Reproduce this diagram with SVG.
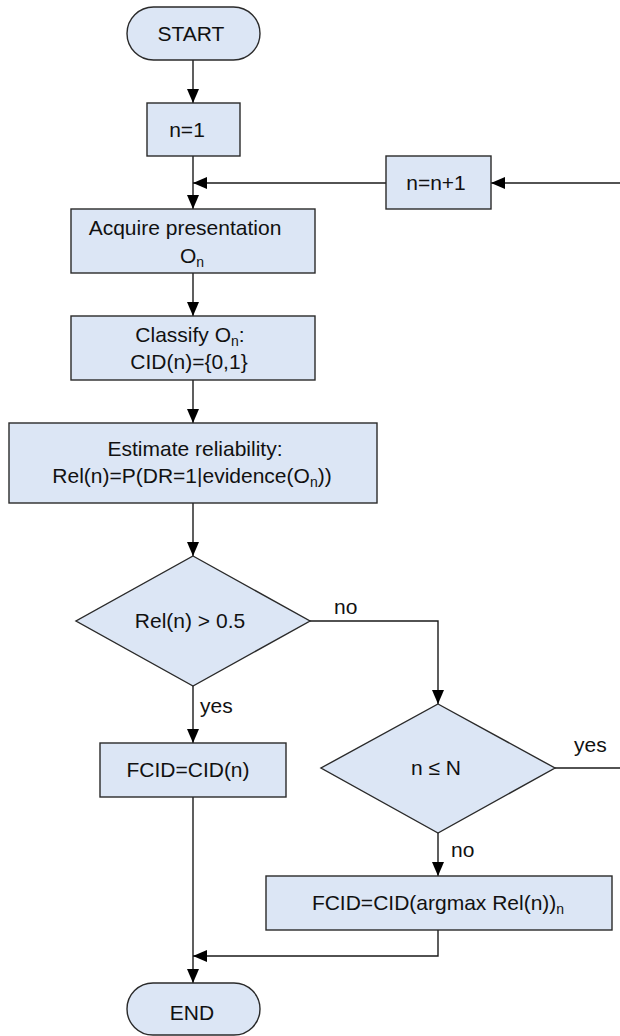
<svg xmlns="http://www.w3.org/2000/svg" width="620" height="1036" viewBox="0 0 620 1036">
<style>
.box{fill:#dce6f5;stroke:#2a2a2a;stroke-width:1.4}
.t{font-family:"Liberation Sans",Arial,Helvetica,sans-serif;font-size:21px;fill:#111;text-anchor:middle}
.l{font-family:"Liberation Sans",Arial,Helvetica,sans-serif;font-size:21px;fill:#111}
.sub{font-size:14px}
.c{fill:none;stroke:#1a1a1a;stroke-width:1.4}
</style>
<defs>
<marker id="ah" markerUnits="userSpaceOnUse" markerWidth="14" markerHeight="12" refX="14" refY="6" orient="auto">
<path d="M0,0 L14,6 L0,12 z" fill="#000"/>
</marker>
</defs>
<rect width="620" height="1036" fill="#fff"/>
<g id="connectors">
<line class="c" x1="193" y1="60" x2="193" y2="103" marker-end="url(#ah)"/>
<line class="c" x1="193" y1="156" x2="193" y2="209" marker-end="url(#ah)"/>
<line class="c" x1="620" y1="183" x2="491" y2="183" marker-end="url(#ah)"/>
<line class="c" x1="386" y1="183" x2="193" y2="183" marker-end="url(#ah)"/>
<line class="c" x1="193" y1="273" x2="193" y2="316" marker-end="url(#ah)"/>
<line class="c" x1="193" y1="380" x2="193" y2="423" marker-end="url(#ah)"/>
<line class="c" x1="193" y1="503" x2="193" y2="556" marker-end="url(#ah)"/>
<line class="c" x1="193" y1="686" x2="193" y2="743" marker-end="url(#ah)"/>
<polyline class="c" points="310,621 438,621 438,704" marker-end="url(#ah)"/>
<line class="c" x1="438" y1="833" x2="438" y2="876" marker-end="url(#ah)"/>
<line class="c" x1="555" y1="768" x2="620" y2="768"/>
<line class="c" x1="193" y1="797" x2="193" y2="983" marker-end="url(#ah)"/>
<polyline class="c" points="438,930 438,956 193,956" marker-end="url(#ah)"/>
<text class="l" x="334" y="614">no</text>
<text class="l" x="200" y="713">yes</text>
<text class="l" x="574" y="752">yes</text>
<text class="l" x="451" y="857">no</text>
</g>
<g id="start">
<rect class="box" x="127" y="7" width="133" height="53" rx="26.5" ry="26.5"/>
<text class="t" x="191" y="41">START</text>
</g>
<g id="n1">
<rect class="box" x="147" y="103" width="93" height="53"/>
<text class="t" x="187" y="137">n=1</text>
</g>
<g id="ninc">
<rect class="box" x="386" y="156" width="105" height="53"/>
<text class="t" x="436" y="190">n=n+1</text>
</g>
<g id="acquire">
<rect class="box" x="71" y="209" width="244" height="64"/>
<text class="t" x="185" y="235">Acquire presentation</text>
<text class="t" x="192" y="263">O<tspan class="sub" dy="4">n</tspan></text>
</g>
<g id="classify">
<rect class="box" x="71" y="316" width="244" height="64"/>
<text class="t" x="190" y="342">Classify O<tspan class="sub" dy="4">n</tspan><tspan dy="-4">:</tspan></text>
<text class="t" x="189" y="369">CID(n)={0,1}</text>
</g>
<g id="estimate">
<rect class="box" x="9" y="423" width="368" height="80"/>
<text class="t" x="195" y="456">Estimate reliability:</text>
<text class="t" x="192" y="483">Rel(n)=P(DR=1|evidence(O<tspan class="sub" dy="4">n</tspan><tspan dy="-4">))</tspan></text>
</g>
<g id="decision1">
<polygon class="box" points="193,556 310,621 193,686 76,621"/>
<text class="t" x="190" y="628">Rel(n) &gt; 0.5</text>
</g>
<g id="fcid1">
<rect class="box" x="100" y="743" width="186" height="54"/>
<text class="t" x="188" y="777">FCID=CID(n)</text>
</g>
<g id="decision2">
<polygon class="box" points="438,704 555,768 438,833 321,768"/>
<text class="t" x="436" y="775">n ≤ N</text>
</g>
<g id="fcid2">
<rect class="box" x="266" y="876" width="346" height="54"/>
<text class="t" x="438" y="910">FCID=CID(argmax Rel(n))<tspan class="sub" dy="4">n</tspan></text>
</g>
<g id="end">
<rect class="box" x="127" y="983" width="133" height="52" rx="26" ry="26"/>
<text class="t" x="192" y="1020">END</text>
</g>
</svg>
